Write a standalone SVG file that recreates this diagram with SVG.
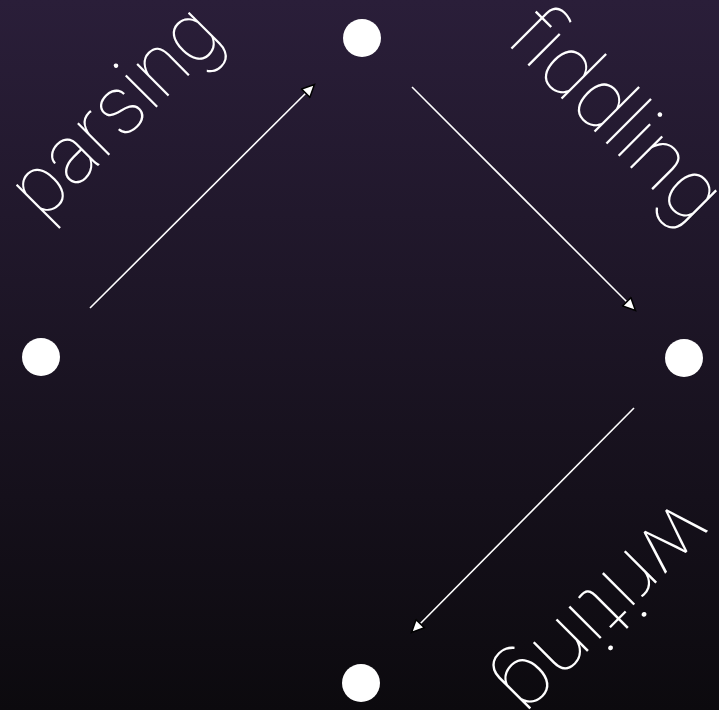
<svg xmlns="http://www.w3.org/2000/svg" width="719" height="710" viewBox="0 0 719 710">
  <defs>
    <linearGradient id="bg" x1="0" y1="0" x2="0" y2="1">
      <stop offset="0" stop-color="#2a1e39"/>
      <stop offset="1" stop-color="#0c0a0e"/>
    </linearGradient>
    <marker id="arrow" viewBox="0 0 10 10" refX="9" refY="5" markerWidth="16" markerHeight="13" markerUnits="userSpaceOnUse" orient="auto">
      <path d="M0,0.5 L9.5,5 L0,9.5 Z" fill="#ffffff" stroke="#000000" stroke-width="1.2"/>
    </marker>
    <style>
      .node { fill: #ffffff; }
      .edge { stroke: #ffffff; stroke-width: 1.6; fill: none; marker-end: url(#arrow); }
      .label { fill: #ffffff; font-family: Roboto, sans-serif; font-weight: 100; font-size: 84px; text-anchor: middle; }
    </style>
  </defs>
  <rect x="0" y="0" width="719" height="710" fill="url(#bg)"/>
  <g id="edges">
    <line class="edge" x1="90" y1="308" x2="314" y2="85"/>
    <line class="edge" x1="412" y1="87" x2="635" y2="310"/>
    <line class="edge" x1="634" y1="408" x2="412" y2="632"/>
  </g>
  <g id="node-top"><circle class="node" cx="362" cy="38" r="19"/></g>
  <g id="node-left"><circle class="node" cx="41" cy="357" r="19"/></g>
  <g id="node-right"><circle class="node" cx="684" cy="358" r="19"/></g>
  <g id="node-bottom"><circle class="node" cx="361" cy="683" r="19"/></g>
  <g id="label-parsing"><text class="label" transform="translate(134,130) rotate(-45)" textLength="259" lengthAdjust="spacingAndGlyphs">parsing</text></g>
  <g id="label-fiddling"><text class="label" transform="translate(597,134) rotate(45)" textLength="265" lengthAdjust="spacingAndGlyphs">fiddling</text></g>
  <g id="label-writing"><text class="label" transform="translate(586,590) rotate(135)" textLength="264" lengthAdjust="spacingAndGlyphs">writing</text></g>
</svg>
